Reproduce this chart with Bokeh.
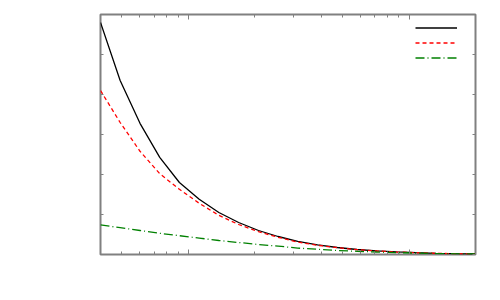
from bokeh.plotting import figure
from bokeh.models import (Range1d, LinearAxis, LogAxis, SingleIntervalTicker, FixedTicker,
                          Legend, LegendItem, ColumnDataSource, CustomJSTickFormatter)
from bokeh.embed import file_html
from bokeh.resources import INLINE

# x sample positions (log spaced)
x = [4.0, 4.91, 6.04, 7.42, 9.11, 11.2, 13.75, 16.9, 20.8, 25.5,
     31.3, 38.5, 47.3, 58.1, 71.4, 87.7, 107.7, 132.3, 162.6, 200.0]
# series
black = [5.8, 4.35, 3.28, 2.43, 1.8, 1.38, 1.05, 0.8, 0.6, 0.45,
         0.33, 0.24, 0.175, 0.125, 0.09, 0.065, 0.045, 0.03, 0.02, 0.012]
red = [4.1, 3.3, 2.58, 2.02, 1.63, 1.28, 0.98, 0.75, 0.57, 0.43,
       0.31, 0.23, 0.17, 0.12, 0.088, 0.063, 0.044, 0.03, 0.02, 0.012]
green = [0.74, 0.67, 0.6, 0.53, 0.47, 0.41, 0.35, 0.3, 0.25, 0.21,
         0.16, 0.13, 0.1, 0.08, 0.062, 0.048, 0.035, 0.025, 0.018, 0.012]

# tick positions
x_major = [10, 100]
x_minor = [4, 5, 6, 7, 8, 9, 20, 30, 40, 50, 60, 70, 80, 90, 200]
y_ticks = [0, 1, 2, 3, 4, 5, 6]

src = ColumnDataSource(dict(x=x, black=black, red=red, green=green))

GRAY = "#808080"

p = figure(width=492, height=292, output_backend="svg", toolbar_location=None,
           x_axis_type="log", x_range=Range1d(4, 200), y_range=Range1d(0, 6),
           min_border_left=100, min_border_right=17, min_border_top=14, min_border_bottom=38,
           x_axis_location=None, y_axis_location=None)
p.grid.visible = False
p.outline_line_color = GRAY
p.outline_line_width = 2
p.background_fill_color = "white"
p.border_fill_color = "white"

blank = CustomJSTickFormatter(code="return ''")


def style(ax, major_in, minor_in):
    ax.major_tick_in = major_in
    ax.major_tick_out = 0
    ax.minor_tick_in = minor_in
    ax.minor_tick_out = 0
    ax.major_tick_line_color = GRAY
    ax.minor_tick_line_color = GRAY
    ax.axis_line_color = None
    ax.formatter = blank
    ax.major_label_standoff = 0


for loc in ("below", "above"):
    ax = LogAxis(ticker=FixedTicker(ticks=x_major, minor_ticks=x_minor))
    style(ax, 5, 3)
    p.add_layout(ax, loc)
for loc in ("left", "right"):
    ax = LinearAxis(ticker=FixedTicker(ticks=y_ticks))
    style(ax, 3, 0)
    p.add_layout(ax, loc)

r1 = p.line("x", "black", source=src, line_color="black", line_width=1.3)
r2 = p.line("x", "red", source=src, line_color="#ff0000", line_width=1.3, line_dash="4 3")
r3 = p.line("x", "green", source=src, line_color="#008000", line_width=1.3, line_dash="9 3 1 3")

legend = Legend(items=[LegendItem(label=" ", renderers=[r1]),
                       LegendItem(label=" ", renderers=[r2]),
                       LegendItem(label=" ", renderers=[r3])],
                location=(315, 189), padding=0, margin=0, spacing=0,
                glyph_width=42, glyph_height=15, label_height=15, label_width=0,
                label_standoff=0, label_text_font_size="1px",
                border_line_color=None, background_fill_alpha=0)
p.add_layout(legend, "center")

open("out.html", "w").write(file_html(p, INLINE))
